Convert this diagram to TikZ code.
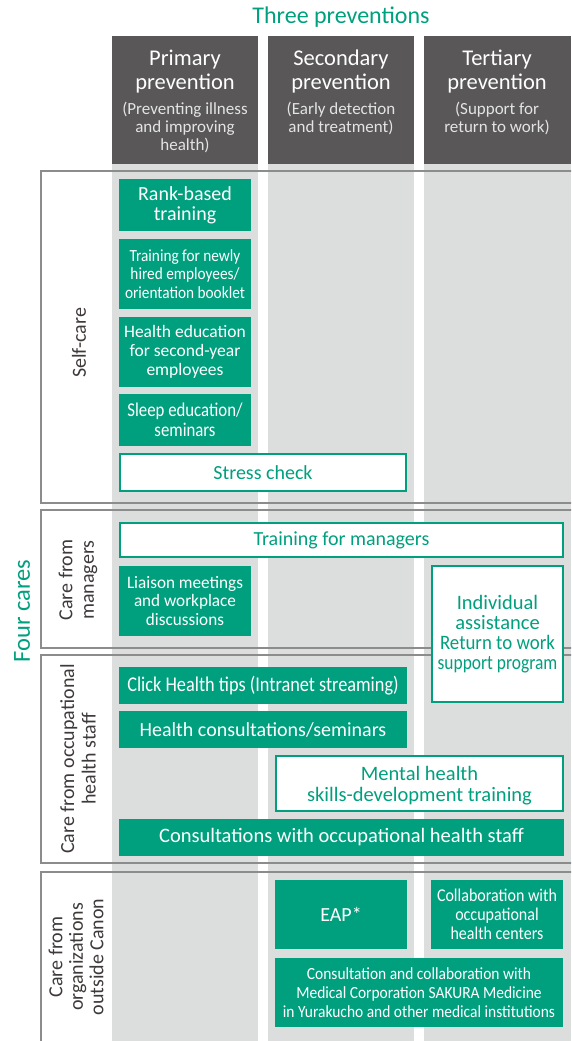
\documentclass[tikz,border=0pt]{standalone}
\usepackage{fontspec}
\setmainfont{Carlito}
\definecolor{cgreen}{RGB}{0,160,126}
\definecolor{cdark}{RGB}{89,87,88}
\definecolor{ccol}{RGB}{220,221,221}
\definecolor{cframe}{RGB}{140,140,140}
\definecolor{csub}{RGB}{228,228,228}
\definecolor{clab}{RGB}{62,58,57}
\newcommand\sx[1]{\addfontfeature{FakeStretch=#1}}
\begin{document}
\begin{tikzpicture}[x=1pt,y=-1pt,
  fs/.style 2 args={font=\fontsize{#1}{#2}\selectfont},
  fss/.style n args={3}{font={\fontsize{#1}{#2}\selectfont\sx{#3}}},
  sz/.style 2 args={minimum width=#1pt, minimum height=#2pt},
  gbox/.style={fill=cgreen, text=white, inner sep=0pt, outer sep=0pt, align=center},
  wbox/.style={fill=white, draw=cgreen, line width=2pt, text=cgreen, inner sep=0pt, outer sep=0pt, align=center},
  hdr/.style={fill=cdark, inner sep=0pt, outer sep=0pt},
  hmain/.style={text=white, align=center, fs={22.5}{24}, inner sep=0pt},
  hsub/.style={text=csub, align=center, fs={17}{18}, inner sep=0pt},
  frm/.style={draw=cframe, line width=1.3pt},
  rowlab/.style={rotate=90, align=center, fs={20}{21.5}, text=clab, inner sep=0pt},
]
\useasboundingbox (0,0) rectangle (571,1041);
\clip (0,0) rectangle (571,1041);

% title
\node[text=cgreen, fs={24}{24}] (title) at (341,17) {Three preventions};

% columns
\fill[ccol] (112,164) rectangle (258,1041);
\fill[ccol] (268,164) rectangle (414,1041);
\fill[ccol] (424,164) rectangle (571,1041);

% headers
\node[hdr, sz={146}{128}] (h1) at (185,100) {};
\node[hdr, sz={146}{128}] (h2) at (341,100) {};
\node[hdr, sz={147}{128}] (h3) at (497.5,100) {};
\node[hmain] (h1a) at (185,72) {Primary\\prevention};
\node[hmain] (h2a) at (341,72) {Secondary\\prevention};
\node[hmain] (h3a) at (497,72) {Tertiary\\prevention};
\node[hsub] (h1b) at (185,127) {(Preventing illness\\and improving\\health)};
\node[hsub] (h2b) at (341,118) {(Early detection\\and treatment)};
\node[hsub] (h3b) at (497,118) {(Support for\\return to work)};

% row frames
\draw[frm] (41,171) rectangle (600,503);
\draw[frm] (41,510) rectangle (600,648);
\draw[frm] (41,655) rectangle (600,863);
\draw[frm] (41,872) rectangle (600,1060);

% row labels
\node[rotate=90, text=cgreen, fs={24.5}{24.5}, inner sep=0pt] (four) at (22,611) {Four cares};
\node[rowlab] (lself) at (79,343) {Self-care};
\node[rowlab] (lmgr) at (78,580) {Care from\\managers};
\node[rowlab] (lohs) at (78,759) {Care from occupational\\health staff};
\node[rowlab, fs={20}{20.5}] (lout) at (76,957) {Care from\\organizations\\outside Canon};

% self-care
\node[gbox, fs={20}{20}, sz={132}{52}] (rank) at (185,205) {Rank-based\\training};
\node[gbox, fss={17}{18.3}{0.9}, sz={132}{70}] (newly) at (185,274) {Training for newly\\hired employees/\\orientation booklet};
\node[gbox, fs={17.5}{18.7}, sz={132}{70}] (hedu) at (185,352) {Health education\\for second-year\\employees};
\node[gbox, fss={19.5}{20}{0.86}, sz={132}{52}] (sleep) at (185,420) {Sleep education/\\seminars};
\node[wbox, fs={20}{20}, sz={286}{37}] (stress) at (263,472.5) {Stress check};

% managers
\node[wbox, fs={20}{20}, sz={443}{34}] (tmgr) at (341.5,540) {Training for managers};
\node[gbox, fss={17.5}{18.3}{0.98}, sz={132}{70}] (liaison) at (185,601) {Liaison meetings\\and workplace\\discussions};
\node[wbox, fs={20.5}{20}, sz={131}{136}] (indiv) at (497.5,634) {Individual\\assistance\\{\sx{0.92}Return to work}\\{\sx{0.85}support program}};

% occupational health staff
\node[gbox, fss={21}{21}{0.87}, sz={288}{37}] (click) at (263,685.5) {Click Health tips (Intranet streaming)};
\node[gbox, fs={20}{20}, sz={288}{37}] (hcons) at (263,729.5) {Health consultations/seminars};
\node[wbox, fs={20.5}{21}, sz={287}{55}, text depth=0pt] (mental) at (419.5,783.5) {Mental health\\skills-development training};
\node[gbox, fs={20.5}{20}, sz={445}{37}] (cohs) at (341.5,837.5) {Consultations with occupational health staff};

% outside
\node[gbox, fs={20}{20}, sz={132}{69}] (eap) at (341,914.5) {EAP*};
\node[gbox, fss={18}{18.8}{0.89}, sz={132}{69}] (collab) at (497,914.5) {Collaboration with\\occupational\\health centers};
\node[gbox, fss={17}{19}{0.91}, sz={288}{69}] (cmed) at (419,992.5) {Consultation and collaboration with\\Medical Corporation SAKURA Medicine\\in Yurakucho and other medical institutions};
\end{tikzpicture}
\end{document}
